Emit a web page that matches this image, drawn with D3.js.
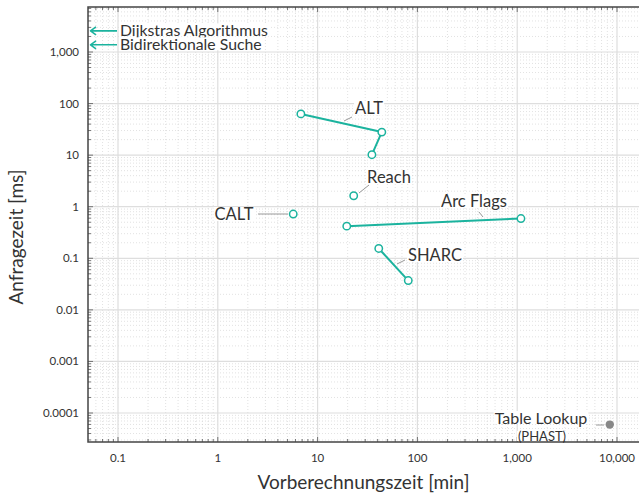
<!DOCTYPE html>
<html><head><meta charset="utf-8">
<script src="https://cdn.jsdelivr.net/npm/d3@7"></script>
<style>
body{margin:0;background:#fff;}
svg{display:block;font-family:Lato,"Open Sans",sans-serif;}
</style></head>
<body>
<svg id="chart" width="639" height="494"></svg>
<script>
// ---- data ----
const lineSeries = [
  {name:"ALT", pts:[[6.8,63],[44,28],[35,10.2]]},
  {name:"Reach", pts:[[23,1.63]]},
  {name:"CALT", pts:[[5.7,0.72]]},
  {name:"Arc Flags", pts:[[19.6,0.42],[1090,0.59]]},
  {name:"SHARC", pts:[[41,0.155],[81,0.037]]}
];
const phast = [8470, 0.0000596];
const arrowNames = ["Dijkstras Algorithmus","Bidirektionale Suche"];
const arrowQueryTimes = [2570, 1380];
const xTickValues = [0.1,1,10,100,1000,10000];
const xTickLabels = ["0.1","1","10","100","1,000","10,000"];
const yTickValues = [1000,100,10,1,0.1,0.01,0.001,0.0001];
const yTickLabels = ["1,000","100","10","1","0.1","0.01","0.001","0.0001"];

const teal = "#1bb39e";
const svg = d3.select("#chart");
const L=88, R=639, T=7, B=442;
const x = d3.scaleLog().domain([0.1,10000]).range([118,617]);
const y = d3.scaleLog().domain([1000,0.0001]).range([52,413]);
const xLo = x.invert(L), xHi = x.invert(R), yLo = y.invert(B), yHi = y.invert(T);

function minorVals(lo, hi){
  const out=[];
  for(let e=-6;e<=6;e++) for(let m=1;m<=9;m++){const v=m*Math.pow(10,e); if(v>=lo&&v<=hi) out.push(v);}
  return out;
}
const xMinor = minorVals(xLo,xHi).filter(v=>!xTickValues.includes(v));
const yMinor = minorVals(yLo,yHi).filter(v=>!yTickValues.includes(v));

// grid
const g = svg.append("g");
g.selectAll(".xm").data(xMinor).join("line").attr("x1",d=>x(d)).attr("x2",d=>x(d)).attr("y1",T).attr("y2",B)
  .attr("stroke","#cfcfcf").attr("stroke-width",0.6).attr("stroke-dasharray","1,2");
g.selectAll(".ym").data(yMinor).join("line").attr("y1",d=>y(d)).attr("y2",d=>y(d)).attr("x1",L).attr("x2",R)
  .attr("stroke","#cfcfcf").attr("stroke-width",0.6).attr("stroke-dasharray","1,2");
g.selectAll(".xM").data(xTickValues).join("line").attr("x1",d=>x(d)).attr("x2",d=>x(d)).attr("y1",T).attr("y2",B)
  .attr("stroke","#dedede").attr("stroke-width",1.2);
g.selectAll(".yM").data(yTickValues).join("line").attr("y1",d=>y(d)).attr("y2",d=>y(d)).attr("x1",L).attr("x2",R)
  .attr("stroke","#dedede").attr("stroke-width",1.2);

// ticks
const axisCol="#555";
const tk = svg.append("g").attr("stroke",axisCol).attr("stroke-width",0.8);
xMinor.forEach(v=>{tk.append("line").attr("x1",x(v)).attr("x2",x(v)).attr("y1",B).attr("y2",B-3);
  tk.append("line").attr("x1",x(v)).attr("x2",x(v)).attr("y1",T).attr("y2",T+3);});
xTickValues.forEach(v=>{tk.append("line").attr("x1",x(v)).attr("x2",x(v)).attr("y1",B).attr("y2",B-5);
  tk.append("line").attr("x1",x(v)).attr("x2",x(v)).attr("y1",T).attr("y2",T+5);});
yMinor.forEach(v=>{tk.append("line").attr("y1",y(v)).attr("y2",y(v)).attr("x1",L).attr("x2",L+3);});
yTickValues.forEach(v=>{tk.append("line").attr("y1",y(v)).attr("y2",y(v)).attr("x1",L).attr("x2",L+5);});

// frame
svg.append("path").attr("d",`M${R},${T}H${L}V${B}H${R}`).attr("fill","none").attr("stroke","#444").attr("stroke-width",1.5);

// tick labels
svg.append("g").selectAll("text").data(xTickValues).join("text")
  .attr("x",d=>x(d)).attr("y",462).attr("text-anchor","middle").attr("font-size",11.5).attr("fill","#333")
  .text((d,i)=>xTickLabels[i]);
svg.append("g").selectAll("text").data(yTickValues).join("text")
  .attr("x",79).attr("y",d=>y(d)+4).attr("text-anchor","end").attr("font-size",11.5).attr("fill","#333")
  .text((d,i)=>yTickLabels[i]);

// axis titles
svg.append("text").attr("x",(L+R)/2).attr("y",489).attr("text-anchor","middle").attr("font-size",19).attr("fill","#333")
  .text("Vorberechnungszeit [min]");
svg.append("text").attr("transform","translate(23,237) rotate(-90)").attr("text-anchor","middle").attr("font-size",19).attr("fill","#333")
  .text("Anfragezeit [ms]");

// labels with white background
function label(txt, lx, ly, anchor, size){
  const t = svg.append("text").attr("x",lx).attr("y",ly).attr("text-anchor",anchor||"start")
    .attr("font-size",size||16.5).attr("fill","#333").text(txt);
  const bb = t.node().getBBox();
  svg.insert("rect", ()=>t.node()).attr("x",bb.x-1).attr("y",bb.y+3).attr("width",bb.width+2).attr("height",Math.max(1,bb.height-6)).attr("fill","#fff");
  return t;
}
function leader(x1,y1,x2,y2){
  svg.append("line").attr("x1",x1).attr("y1",y1).attr("x2",x2).attr("y2",y2).attr("stroke","#999").attr("stroke-width",1);
}

// arrows
arrowQueryTimes.forEach((q,i)=>{
  const yy = y(q);
  svg.append("path").attr("d",`M117,${yy}H91M96,${yy-4}L90.5,${yy}L96,${yy+4}`)
    .attr("fill","none").attr("stroke",teal).attr("stroke-width",1.6).attr("stroke-linejoin","round");
  label(arrowNames[i],120,yy+5.5,"start",15.8);
});

// series lines
const line = d3.line().x(d=>x(d[0])).y(d=>y(d[1]));
lineSeries.forEach(s=>{
  if(s.pts.length>1) svg.append("path").attr("d",line(s.pts)).attr("fill","none").attr("stroke",teal).attr("stroke-width",2);
});

// leaders & labels
leader(344,121,352,117); label("ALT",369,114,"middle");
leader(359,193,369,185); label("Reach",389,183,"middle");
leader(258,214,288,214); label("CALT",234,220,"middle");
leader(479,212,483,217); label("Arc Flags",474,207,"middle");
leader(397,264,405,260); label("SHARC",435,261,"middle");
leader(596,425,604,425);
label("Table Lookup",541,424,"middle",16);
label("(PHAST)",542,441,"middle",13);

// points
lineSeries.forEach(s=>{
  svg.append("g").selectAll("circle").data(s.pts).join("circle")
    .attr("cx",d=>x(d[0])).attr("cy",d=>y(d[1])).attr("r",3.7)
    .attr("fill","#fff").attr("stroke",teal).attr("stroke-width",1.5);
});
svg.append("circle").attr("cx",x(phast[0])).attr("cy",y(phast[1])).attr("r",4.2).attr("fill","#888");
</script>
</body></html>
